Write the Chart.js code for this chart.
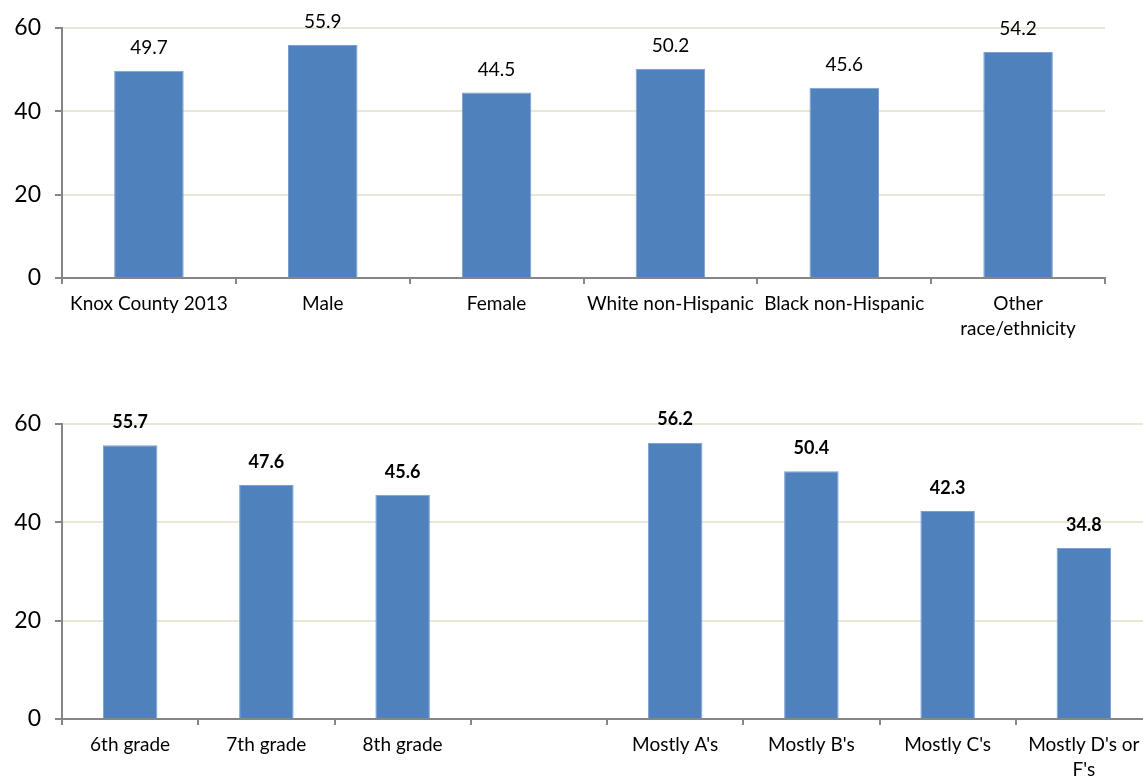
<!DOCTYPE html>
<html>
<head>
<meta charset="utf-8">
<script src="https://cdn.jsdelivr.net/npm/chart.js@4"></script>
<style>
  html, body { margin: 0; padding: 0; background: #fff; overflow: hidden; }
  #wrap { position: relative; width: 1143px; height: 780px; overflow: hidden; }
  #topChart { position: absolute; left: 0; top: 0; }
  #bottomChart { position: absolute; left: 0; top: 380px; }
</style>
</head>
<body>
<div id="wrap">
  <canvas id="topChart" width="1143" height="360"></canvas>
  <canvas id="bottomChart" width="1160" height="400"></canvas>
</div>
<script>
  "use strict";

  // top panel: county, sex, race/ethnicity
  const topCategories = [
    "Knox County 2013", "Male", "Female",
    "White non-Hispanic", "Black non-Hispanic", ["Other", "race/ethnicity"]
  ];
  const topValues = [49.7, 55.9, 44.5, 50.2, 45.6, 54.2];

  // bottom panel: grade level and school marks (one blank slot between groups)
  const bottomCategories = [
    "6th grade", "7th grade", "8th grade", "",
    "Mostly A's", "Mostly B's", "Mostly C's", ["Mostly D's or", "F's"]
  ];
  const bottomValues = [55.7, 47.6, 45.6, null, 56.2, 50.4, 42.3, 34.8];

  const yTicks = [0, 20, 40, 60];

  const BAR = "#4F81BD";
  const AXIS = "#868686";
  const GRID = "#EAE7D9";
  const FONT = "Lato, 'Open Sans', sans-serif";

  // simple value labels above each bar
  const valueLabels = {
    id: "valueLabels",
    afterDatasetsDraw(chart, args, opts) {
      const ctx = chart.ctx;
      const meta = chart.getDatasetMeta(0);
      const data = chart.data.datasets[0].data;
      ctx.save();
      ctx.font = opts.font;
      ctx.fillStyle = "#000";
      ctx.textAlign = "center";
      ctx.textBaseline = "middle";
      meta.data.forEach((bar, i) => {
        if (data[i] == null) return;
        ctx.fillText(data[i].toFixed(1), bar.x, bar.y - opts.offset);
      });
      ctx.restore();
    }
  };

  function makeChart(canvasId, labels, values, cfg) {
    return new Chart(document.getElementById(canvasId), {
      type: "bar",
      data: {
        labels: labels,
        datasets: [{
          data: values,
          backgroundColor: BAR,
          borderColor: "#7A9FD0",
          borderWidth: 1,
          categoryPercentage: 1,
          barPercentage: 0.4
        }]
      },
      plugins: [valueLabels],
      options: {
        responsive: false,
        animation: false,
        layout: { padding: { top: cfg.padTop, right: cfg.padRight, left: 0, bottom: 0 } },
        plugins: {
          legend: { display: false },
          tooltip: { enabled: false },
          valueLabels: { font: cfg.labelFont, offset: 23 }
        },
        scales: {
          x: {
            offset: true,
            grid: {
              offset: true,
              drawOnChartArea: false,
              color: AXIS,
              tickColor: AXIS,
              tickLength: 6,
              lineWidth: 2
            },
            border: { color: AXIS, width: 2 },
            ticks: {
              color: "#000",
              font: { size: 19, family: FONT, lineHeight: 1.3 },
              padding: 8,
              maxRotation: 0,
              autoSkip: false
            },
            afterFit(scale) { scale.height = cfg.xHeight; }
          },
          y: {
            min: 0,
            max: 60,
            afterBuildTicks(scale) {
              scale.ticks = yTicks.map(v => ({ value: v }));
            },
            grid: {
              color: GRID,
              lineWidth: 2,
              tickColor: AXIS,
              tickLength: 7
            },
            border: { color: AXIS, width: 2 },
            ticks: {
              color: "#000",
              font: { size: 23, family: FONT },
              padding: 14
            },
            afterFit(scale) { scale.width = 62; }
          }
        }
      }
    });
  }

  makeChart("topChart", topCategories, topValues, {
    padTop: 26, padRight: 38, xHeight: 82,
    labelFont: "19px " + FONT
  });

  makeChart("bottomChart", bottomCategories, bottomValues, {
    padTop: 44, padRight: 8, xHeight: 61,
    labelFont: "bold 18px " + FONT
  });
</script>
</body>
</html>
